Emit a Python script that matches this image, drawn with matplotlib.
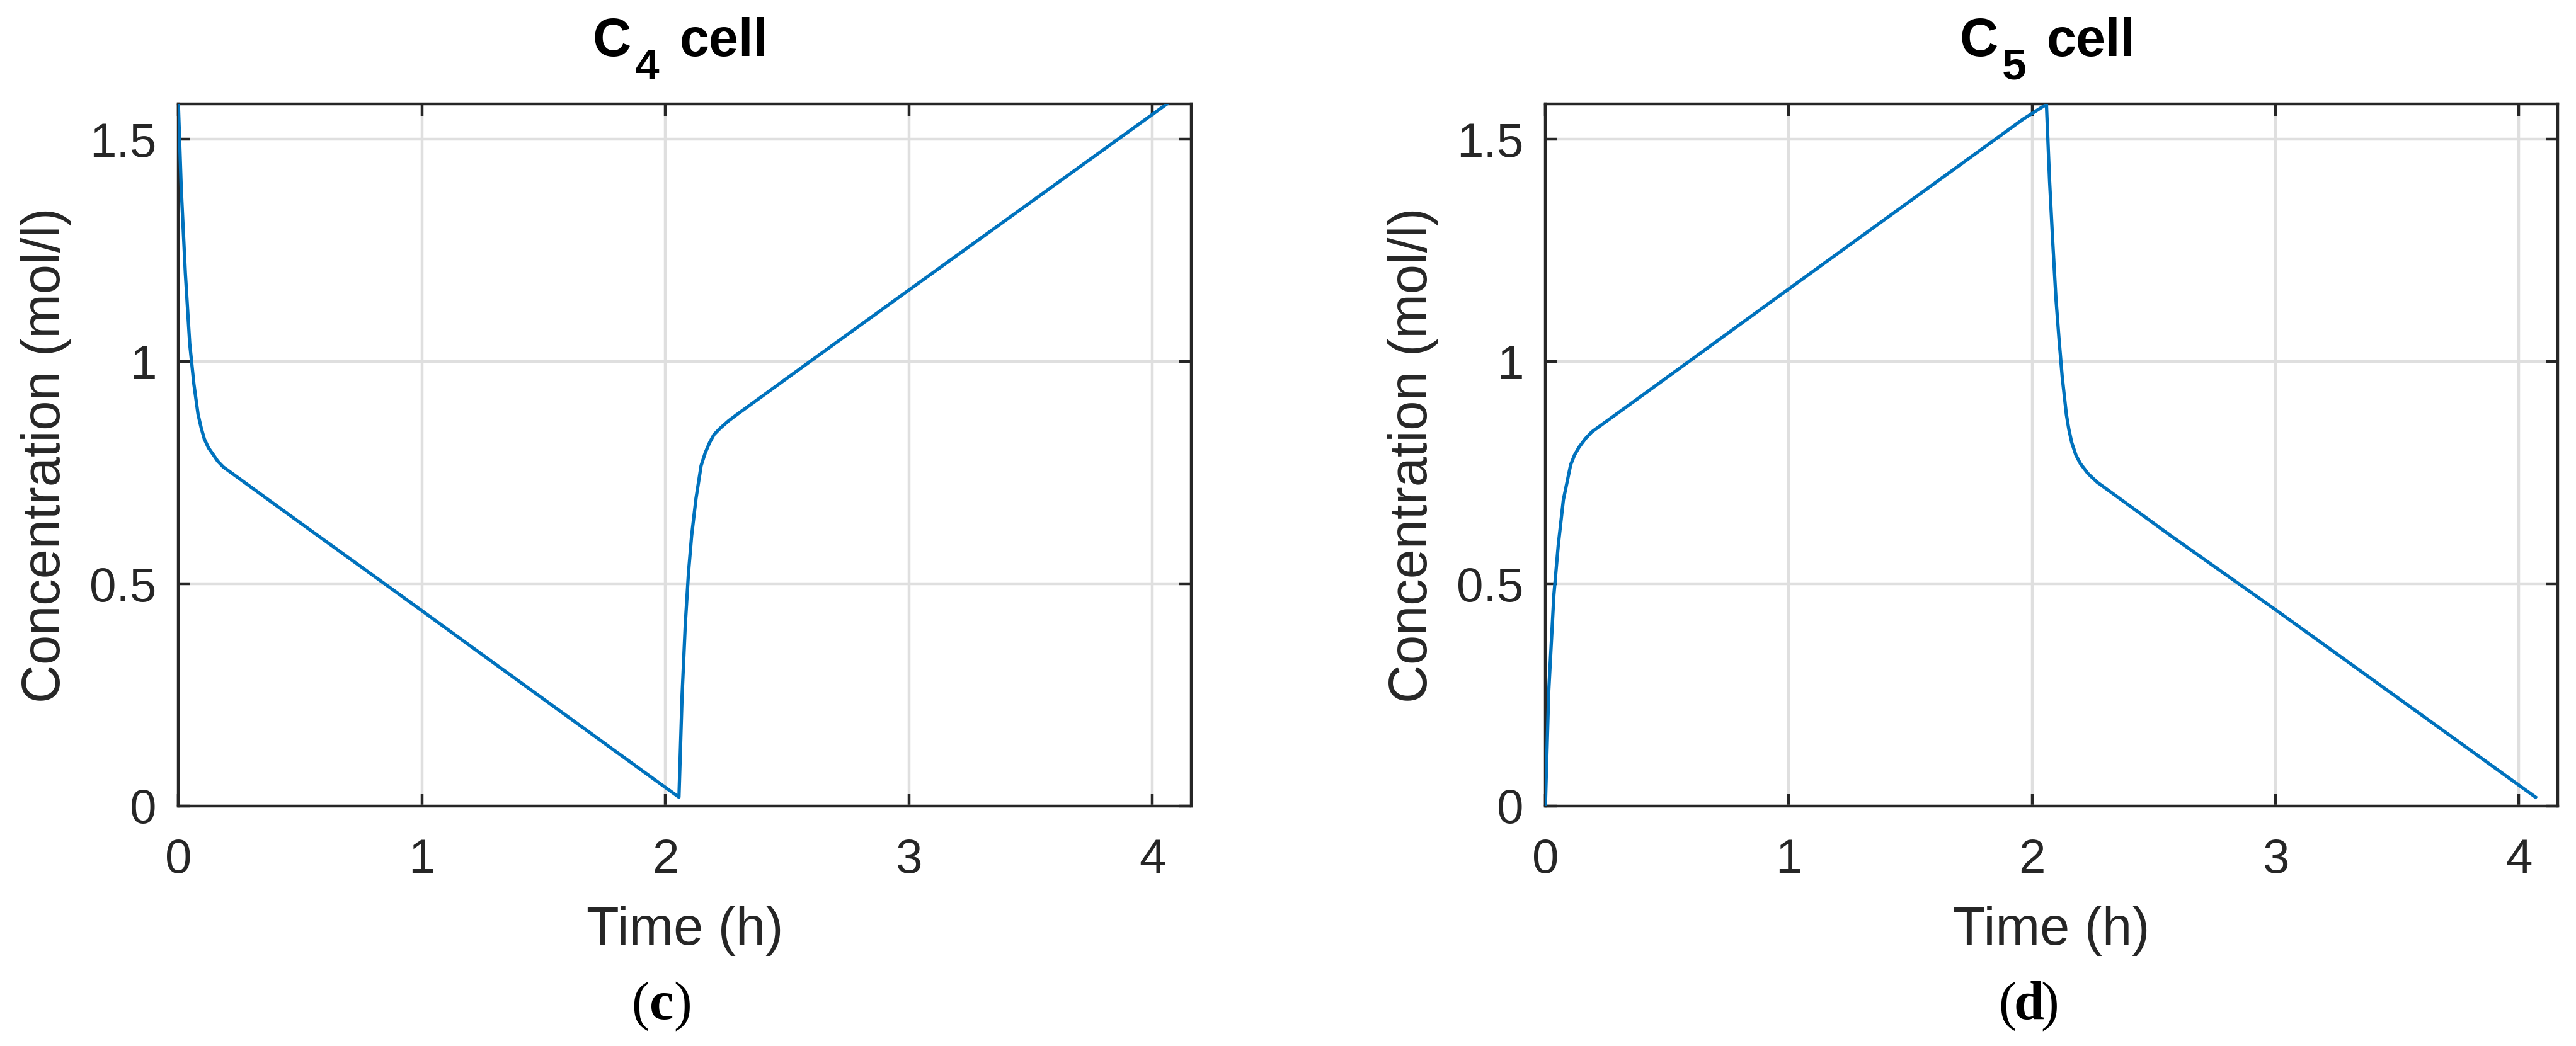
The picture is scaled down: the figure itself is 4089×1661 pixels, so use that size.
import matplotlib
matplotlib.use('Agg')
import matplotlib.pyplot as plt

# data (time in h, concentration in mol/l)
t_c4 = [0, 0.012, 0.029, 0.047, 0.064, 0.081, 0.094, 0.107, 0.124, 0.142, 0.162, 0.185, 0.426, 0.997, 1.288,
        1.965, 2.056, 2.069, 2.082, 2.095, 2.108, 2.126, 2.147, 2.164, 2.182, 2.200, 2.225, 2.260, 2.294, 2.606, 3.0, 4.06]
c_c4 = [1.583, 1.391, 1.199, 1.040, 0.950, 0.882, 0.851, 0.826, 0.806, 0.792, 0.776, 0.763, 0.667, 0.441, 0.325,
        0.056, 0.020, 0.251, 0.409, 0.524, 0.608, 0.692, 0.766, 0.795, 0.818, 0.836, 0.850, 0.867, 0.881, 1.005, 1.161, 1.580]

t_c5 = [0, 0.014, 0.035, 0.053, 0.074, 0.104, 0.120, 0.139, 0.165, 0.191, 0.466, 0.898, 1.964,
        2.059, 2.072, 2.085, 2.098, 2.111, 2.124, 2.141, 2.151, 2.163, 2.180, 2.198, 2.230, 2.267, 2.571, 3.0, 4.069]
c_c5 = [0.0, 0.26, 0.475, 0.587, 0.689, 0.768, 0.790, 0.808, 0.827, 0.842, 0.951, 1.123, 1.546,
        1.579, 1.406, 1.269, 1.143, 1.049, 0.965, 0.881, 0.848, 0.818, 0.790, 0.771, 0.748, 0.729, 0.608, 0.442, 0.020]

cell_names = ['4', '5']
panel_letters = ['c', 'd']
x_ticks = [0, 1, 2, 3, 4]
y_ticks = [0, 0.5, 1, 1.5]
y_ticklabels = ['0', '0.5', '1', '1.5']

plt.rcParams['font.family'] = ['Liberation Sans', 'DejaVu Sans']

W, H = 4089, 1661
dark = '#262626'
blue = '#0072BD'

fig = plt.figure(figsize=(W / 100, H / 100), dpi=100)
ax_c4 = fig.add_axes([283 / W, 1 - 1280 / H, 1608 / W, 1115 / H])
ax_c5 = fig.add_axes([2453 / W, 1 - 1280 / H, 1607 / W, 1115 / H])


def ftext(x_px, y_px, s, **kw):
    # place text by pixel position in the full figure (y from top)
    return fig.text(x_px / W, 1 - y_px / H, s, va='baseline', **kw)


for i, (ax, t, c) in enumerate([(ax_c4, t_c4, c_c4), (ax_c5, t_c5, c_c5)]):
    ax.plot(t, c, color=blue, lw=3.8, zorder=3)
    ax.set_xlim(0, 4.16)
    ax.set_ylim(0, 1.58)
    ax.set_xticks(x_ticks)
    ax.set_yticks(y_ticks)
    ax.set_yticklabels(y_ticklabels)
    ax.grid(True, color='#dfdfdf', lw=3.2, zorder=0)
    ax.set_axisbelow(True)
    for s in ax.spines.values():
        s.set_color(dark)
        s.set_linewidth(3.2)
    ax.tick_params(axis='both', direction='in', length=14, width=3.2, color=dark,
                   labelsize=55, labelcolor=dark, top=True, right=True)
    ax.tick_params(axis='x', pad=37)
    ax.tick_params(axis='y', pad=25)

    ax.set_xlabel('Time (h)', fontsize=61, color=dark)
    ax.xaxis.label.set_va('baseline')
    ax.xaxis.set_label_coords(0.5, -0.197)
    ax.set_ylabel('Concentration (mol/l)', fontsize=61, color=dark)
    ax.yaxis.label.set_va('baseline')
    ax.yaxis.set_label_coords(-0.117, 0.5)

    dx = 0 if i == 0 else 2170
    # title: C with a lowered subscript, then "cell"
    ftext(941 + dx, 89, 'C', fontsize=61, fontweight='bold', color='black')
    ftext(1008 + dx, 126, cell_names[i], fontsize=50, fontweight='bold', color='black')
    ftext(1079 + dx, 89, 'cell', fontsize=61, fontweight='bold', color='black')

    # panel label: regular parentheses, bold letter
    cx = 1050 + dx
    ftext(cx, 1618, panel_letters[i], fontsize=62, fontweight='bold',
          family='Liberation Serif', ha='center', color='black')
    ftext(cx - 19, 1618, '(', fontsize=62, family='Liberation Serif', ha='right', color='black')
    ftext(cx + 19, 1618, ')', fontsize=62, family='Liberation Serif', ha='left', color='black')

fig.savefig('out.png', dpi=100, facecolor='white')
